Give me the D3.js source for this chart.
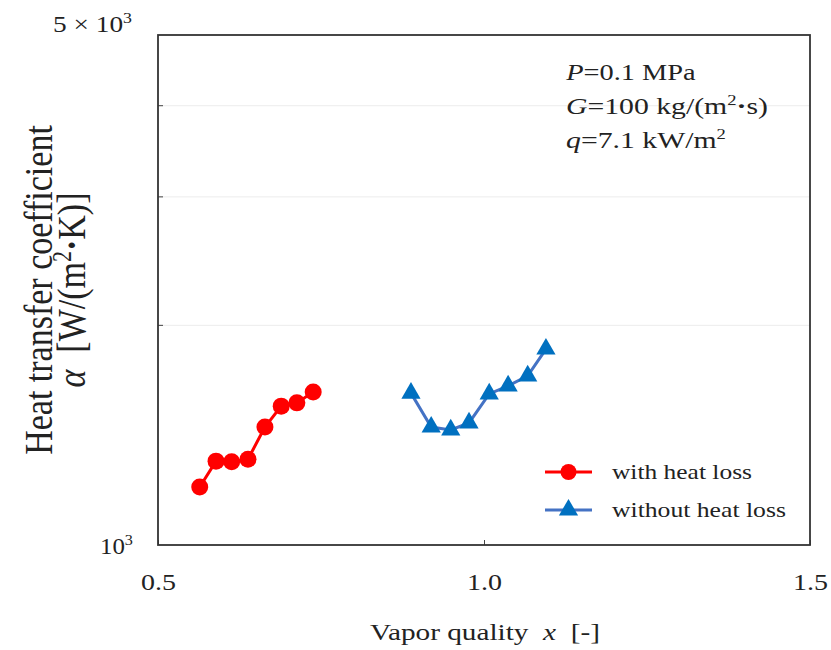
<!DOCTYPE html>
<html>
<head>
<meta charset="utf-8">
<script src="https://cdn.jsdelivr.net/npm/d3@7"></script>
<style>
  body { margin: 0; background: #fff; }
  text { font-family: "Liberation Serif", "Times New Roman", serif; fill: #222; }
</style>
</head>
<body>
<div id="chart"></div>
<script>
// data
var withLossX = [0.564, 0.589, 0.613, 0.638, 0.664, 0.689, 0.713, 0.738];
var withLossY = [1201, 1303, 1300, 1311, 1451, 1550, 1566, 1621];
var withoutLossX = [0.888, 0.919, 0.949, 0.977, 1.008, 1.037, 1.067, 1.095];
var withoutLossY = [1615, 1451, 1438, 1470, 1611, 1652, 1705, 1856];
var xTicks = [0.5, 1.0, 1.5];
var yGrid = [2000, 3000, 4000];
var seriesNames = ["with heat loss", "without heat loss"];

var width = 831, height = 650;
var margin = {left: 158, right: 21, top: 35, bottom: 105};

var svg = d3.select("#chart")
    .append("svg")
    .attr("width", width)
    .attr("height", height);

// the original lettering is wider than Liberation Serif, so stretch text to its span
function fit(sel, target, anchor) {
    var b = sel.node().getBBox();
    var k = target / b.width;
    var ax = anchor === "middle" ? b.x + b.width / 2 : (anchor === "end" ? b.x + b.width : b.x);
    sel.attr("transform", "translate(" + ax + ",0) scale(" + k + ",1) translate(" + (-ax) + ",0)");
}

var x = d3.scaleLinear()
    .domain([0.5, 1.5])
    .range([margin.left, width - margin.right]);

var y = d3.scaleLog()
    .domain([1000, 5000])
    .range([height - margin.bottom, margin.top]);

// grid lines
svg.selectAll(".grid")
    .data(yGrid)
    .enter()
    .append("line")
    .attr("x1", x(0.5))
    .attr("x2", x(1.5))
    .attr("y1", function (d) { return y(d); })
    .attr("y2", function (d) { return y(d); })
    .attr("stroke", "#ececec")
    .attr("stroke-width", 1);

// small inward ticks on left axis
svg.selectAll(".ytick")
    .data(yGrid)
    .enter()
    .append("line")
    .attr("x1", x(0.5))
    .attr("x2", x(0.5) + 5)
    .attr("y1", function (d) { return y(d); })
    .attr("y2", function (d) { return y(d); })
    .attr("stroke", "#444")
    .attr("stroke-width", 1);

// x axis
var xAxis = svg.append("g")
    .attr("transform", "translate(0," + y(1000) + ")")
    .call(d3.axisBottom(x).tickValues(xTicks).tickSize(-5).tickPadding(29).tickFormat(d3.format(".1f")));
xAxis.select(".domain").remove();
xAxis.selectAll("line").attr("stroke", "#444");
xAxis.selectAll("text")
    .style("font-family", "Liberation Serif, serif")
    .style("font-size", "23px")
    .attr("fill", "#222")
    .each(function () { fit(d3.select(this), 35, "middle"); });

// frame
svg.append("rect")
    .attr("x", x(0.5))
    .attr("y", y(5000))
    .attr("width", x(1.5) - x(0.5))
    .attr("height", y(1000) - y(5000))
    .attr("fill", "none")
    .attr("stroke", "#333")
    .attr("stroke-width", 1.8);

// y tick labels
var yLab = svg.append("text")
    .attr("x", 133)
    .attr("y", y(1000) + 9)
    .attr("text-anchor", "end")
    .style("font-size", "23px");
yLab.append("tspan").text("10");
yLab.append("tspan").attr("dy", -9).style("font-size", "15px").text("3");
fit(yLab, 33, "end");

var yLab2 = svg.append("text")
    .attr("x", 132)
    .attr("y", y(5000) - 3)
    .attr("text-anchor", "end")
    .style("font-size", "23px");
yLab2.append("tspan").text("5 \u00d7 10");
yLab2.append("tspan").attr("dy", -9).style("font-size", "15px").text("3");
fit(yLab2, 79, "end");

// lines and markers
var line = d3.line()
    .x(function (d) { return x(d[0]); })
    .y(function (d) { return y(d[1]); });

var red = d3.zip(withLossX, withLossY);
var blue = d3.zip(withoutLossX, withoutLossY);

svg.append("path")
    .datum(red)
    .attr("d", line)
    .attr("fill", "none")
    .attr("stroke", "#ff0000")
    .attr("stroke-width", 3);

svg.selectAll(".redPt")
    .data(red)
    .enter()
    .append("circle")
    .attr("cx", function (d) { return x(d[0]); })
    .attr("cy", function (d) { return y(d[1]); })
    .attr("r", 8.5)
    .attr("fill", "#ff0000");

svg.append("path")
    .datum(blue)
    .attr("d", line)
    .attr("fill", "none")
    .attr("stroke", "#4472c4")
    .attr("stroke-width", 3);

var tri = d3.symbol().type(d3.symbolTriangle).size(160);

svg.selectAll(".bluePt")
    .data(blue)
    .enter()
    .append("path")
    .attr("d", tri)
    .attr("transform", function (d) { return "translate(" + x(d[0]) + "," + y(d[1]) + ")"; })
    .attr("fill", "#0070c0");

// legend
var legendWidths = [140, 174];
var legend = svg.selectAll(".legend")
    .data(seriesNames)
    .enter()
    .append("g")
    .attr("transform", function (d, i) { return "translate(545," + (472 + i * 38) + ")"; });

legend.append("line")
    .attr("x1", 0)
    .attr("x2", 47)
    .attr("stroke", function (d, i) { return i === 0 ? "#ff0000" : "#4472c4"; })
    .attr("stroke-width", 3);

legend.each(function (d, i) {
    var g = d3.select(this);
    if (i === 0) {
        g.append("circle").attr("cx", 23.5).attr("r", 8).attr("fill", "#ff0000");
    } else {
        g.append("path").attr("d", tri).attr("transform", "translate(23.5,0)").attr("fill", "#0070c0");
    }
    var t = g.append("text")
        .attr("x", 67)
        .attr("y", 7)
        .style("font-size", "21px")
        .text(d);
    fit(t, legendWidths[i], "start");
});

// conditions
var cond = svg.append("g").attr("transform", "translate(566,0)");
var c1 = cond.append("text").attr("y", 80).style("font-size", "24px");
c1.append("tspan").style("font-style", "italic").text("P");
c1.append("tspan").text("=0.1 MPa");
fit(c1, 131, "start");
var c2 = cond.append("text").attr("y", 114).style("font-size", "24px");
c2.append("tspan").style("font-style", "italic").text("G");
c2.append("tspan").text("=100 kg/(m");
c2.append("tspan").attr("dy", -9).style("font-size", "15px").text("2");
c2.append("tspan").attr("dy", 9).style("font-weight", "bold").text("\u00b7");
c2.append("tspan").text("s)");
fit(c2, 202, "start");
var c3 = cond.append("text").attr("y", 148).style("font-size", "24px");
c3.append("tspan").style("font-style", "italic").text("q");
c3.append("tspan").text("=7.1 kW/m");
c3.append("tspan").attr("dy", -9).style("font-size", "15px").text("2");
fit(c3, 160, "start");

// axis titles
var xt = svg.append("text")
    .attr("x", 485)
    .attr("y", 640)
    .attr("text-anchor", "middle")
    .style("font-size", "24px");
xt.append("tspan").text("Vapor quality\u00a0\u00a0");
xt.append("tspan").style("font-style", "italic").text("x");
xt.append("tspan").text("\u00a0\u00a0[-]");
fit(xt, 230, "middle");

// rotated title: glyphs widened across the line, like the horizontal text
var yt = svg.append("g").attr("transform", "translate(52,290) rotate(-90)");
yt.append("text")
    .attr("text-anchor", "middle")
    .attr("transform", "scale(1,1.2)")
    .style("font-size", "34px")
    .text("Heat transfer coefficient");
var yt2 = yt.append("text")
    .attr("y", 33)
    .attr("text-anchor", "middle")
    .attr("transform", "translate(0,33) scale(1,1.2) translate(0,-33)")
    .style("font-size", "34px");
yt2.append("tspan").style("font-style", "italic").text("\u03b1");
yt2.append("tspan").text("\u00a0\u00a0[W/(m");
yt2.append("tspan").attr("dy", -12).style("font-size", "22px").text("2");
yt2.append("tspan").attr("dy", 12).style("font-weight", "bold").text("\u00b7");
yt2.append("tspan").text("K)]");
</script>
</body>
</html>
